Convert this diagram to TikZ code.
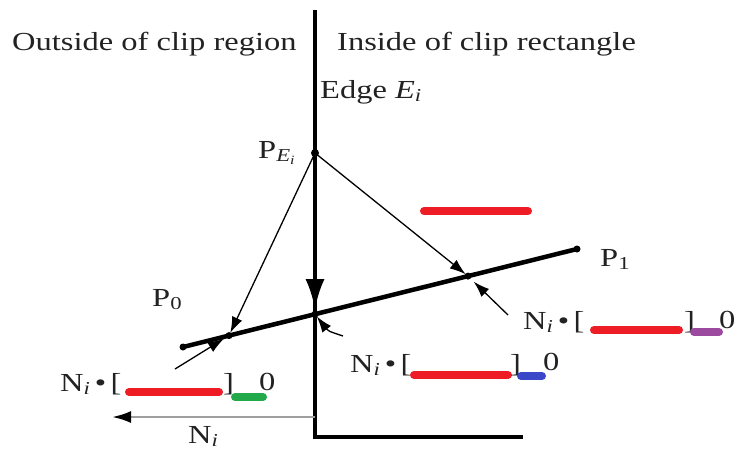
\documentclass[tikz,border=0pt]{standalone}
\usepackage{fontspec}
\setmainfont[FakeStretch=1.25]{Liberation Serif}
\usetikzlibrary{arrows.meta}
\definecolor{barred}{HTML}{EE1C25}
\definecolor{bargreen}{HTML}{22AA4A}
\definecolor{barblue}{HTML}{3A48C8}
\definecolor{barpurple}{HTML}{9B4A9F}
\definecolor{txt}{HTML}{222222}
\begin{document}
\begin{tikzpicture}[x=1pt,y=-1pt,
  font=\fontsize{26}{30}\selectfont,
  lbl/.style={inner sep=0pt, anchor=base west, text=txt},
  bar/.style={line width=8pt, line cap=round},
  thinarrow/.style={-{Latex[length=16pt,width=11pt]}, line width=1.3pt},
  dot/.style={circle, fill, inner sep=0pt, minimum size=#1},
  dot/.default=7pt]
\useasboundingbox (0,0) rectangle (736,451);

% edge and clip rectangle
\coordinate (top) at (315,10);
\coordinate (corner) at (315,437);
\coordinate (bend) at (523,437);
\draw[line width=3.5pt] (top) -- (corner) -- (bend);

% line P0 P1
\node[dot] (P0) at (183,347) {};
\node[dot] (P1) at (577,249) {};
\draw[line width=4.5pt] (P0.center) -- (P1.center);
\node[dot=7pt] (I0) at (229,335.6) {};
\node[dot=7pt] (IM) at (315,314.2) {};
\node[dot=7pt] (I1) at (468,276.1) {};
\node[dot=8pt] (PE) at (315,153) {};

% arrows from PE
\draw[thinarrow, shorten >=3pt] (PE.center) -- (I0.center);
\draw[thinarrow, shorten >=3pt] (PE.center) -- (I1.center);
% edge arrow
\coordinate (ea) at (315,270);
\draw[line width=3.5pt, -{Latex[length=30pt,width=19pt]}, shorten >=5pt] (ea) -- (IM.center);

% normal arrows
\coordinate (n0s) at (175,369);
\draw[thinarrow, shorten >=6pt] (n0s) -- (I0.center);
\coordinate (nms) at (343,336);
\draw[thinarrow, shorten >=3pt] (nms) .. controls (328,331) .. (IM.center);
\coordinate (n1s) at (508,315);
\draw[thinarrow, shorten >=8pt] (n1s) -- (I1.center);

% normal vector
\coordinate (ns) at (315,417);
\coordinate (ne) at (112,417);
\draw[gray!75, line width=2.5pt, -{Latex[length=19pt,width=12pt,black]}] (ns) -- (ne);
\node[lbl] (nlab) at (188,443) {N\textsubscript{\itshape i}};

% labels
\node[lbl] (tout) at (12,50) {Outside of clip region};
\node[lbl] (tin) at (337,50) {Inside of clip rectangle};
\node[lbl] (edge) at (320,98) {Edge \textit{E}\textsubscript{\itshape i}};
\node[lbl] (pel) at (258,158) {P\textsubscript{\itshape E\textsubscript{i}}};
\node[lbl] (p0l) at (152,306) {P\textsubscript{0}};
\node[lbl] (p1l) at (600,266) {P\textsubscript{1}};

% standalone red bar
\coordinate (rs) at (424,211);
\coordinate (re) at (528,211);
\draw[bar, barred] (rs) -- (re);

% left dot product
\node[lbl] (nl0) at (60,391) {N\textsubscript{\itshape i}\,\textbullet\,[};
\coordinate (l0a) at (129,392); \coordinate (l0b) at (219,392);
\draw[bar, barred] (l0a) -- (l0b);
\node[lbl] (rb0) at (223,391) {]};
\coordinate (l0c) at (235,397); \coordinate (l0d) at (263,397);
\draw[bar, bargreen] (l0c) -- (l0d);
\node[lbl] (z0) at (259,390) {0};

% middle dot product
\node[lbl] (nlm) at (350,372) {N\textsubscript{\itshape i}\,\textbullet\,[};
\coordinate (lma) at (414,375); \coordinate (lmb) at (508,375);
\draw[bar, barred] (lma) -- (lmb);
\node[lbl] (rbm) at (510,372) {]};
\coordinate (lmc) at (521,376); \coordinate (lmd) at (542,376);
\draw[bar, barblue] (lmc) -- (lmd);
\node[lbl] (zm) at (543,370) {0};

% right dot product
\node[lbl] (nl1) at (523,329) {N\textsubscript{\itshape i}\,\textbullet\,[};
\coordinate (l1a) at (594,330); \coordinate (l1b) at (679,330);
\draw[bar, barred] (l1a) -- (l1b);
\node[lbl] (rb1) at (684,329) {]};
\coordinate (l1c) at (694,332); \coordinate (l1d) at (719,332);
\draw[bar, barpurple] (l1c) -- (l1d);
\node[lbl] (z1) at (719,328) {0};
\end{tikzpicture}
\end{document}
